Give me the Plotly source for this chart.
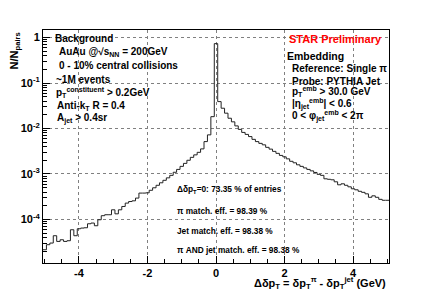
import numpy as np
import plotly.graph_objects as go

# ---- data (fraction of entries per 0.1 GeV bin, bin centres -5.0 ... 5.0) ----
bin_centers = np.round(np.arange(-5.0, 5.0001, 0.1), 2)
left_values = [
    2.16e-5, 2.79e-5, 3.03e-5, 4.39e-5, 3.29e-5, 3.58e-5, 3.29e-5, 3.41e-5, 5.94e-5, 4.39e-5,
    6.25e-5, 6.47e-5, 6.57e-5, 8.05e-5, 8.34e-5, 7.28e-5, 9.85e-5, 1.21e-4, 1.27e-4, 1.27e-4,
    1.63e-4, 1.33e-4, 1.63e-4, 1.93e-4, 2.29e-4, 2.48e-4, 2.57e-4, 2.95e-4, 3.80e-4, 3.80e-4,
    3.85e-4, 4.38e-4, 4.97e-4, 5.64e-4, 6.40e-4, 7.26e-4, 8.22e-4, 9.33e-4, 1.09e-3, 1.26e-3,
    1.47e-3, 1.71e-3, 2.00e-3, 2.32e-3, 2.63e-3, 2.99e-3, 3.56e-3, 5.15e-3, 7.24e-3, 1.82e-2,
]
peak_value = [0.7335]
right_values = [
    3.90e-2, 2.79e-2, 2.17e-2, 1.68e-2, 1.40e-2, 1.14e-2, 9.55e-3, 8.20e-3, 7.41e-3, 6.64e-3,
    5.77e-3, 5.15e-3, 4.71e-3, 4.37e-3, 3.85e-3, 3.52e-3, 3.14e-3, 2.84e-3, 2.56e-3, 2.38e-3,
    2.15e-3, 1.90e-3, 1.76e-3, 1.59e-3, 1.47e-3, 1.36e-3, 1.26e-3, 1.17e-3, 1.08e-3, 9.82e-4,
    9.33e-4, 7.83e-4, 7.64e-4, 7.45e-4, 6.73e-4, 5.78e-4, 6.08e-4, 5.64e-4, 5.22e-4, 4.72e-4,
    4.49e-4, 4.16e-4, 3.95e-4, 3.66e-4, 3.07e-4, 3.31e-4, 3.07e-4, 2.77e-4, 2.64e-4, 2.64e-4,
]
values = left_values + peak_value + right_values

x_tickvals = [-4, -2, 0, 2, 4]
x_ticktext = ["-4", "-2", "0", "2", "4"]
y_tickvals = [1e-4, 1e-3, 1e-2, 1e-1, 1]
y_ticktext = ["10<sup>-4</sup>", "10<sup>-3</sup>", "10<sup>-2</sup>", "10<sup>-1</sup>", "1"]

# ---- build step outline from bin edges ----
half = 0.05
edges = list(bin_centers - half) + [bin_centers[-1] + half]
step_y = values + [values[-1]]

FONT = "Liberation Sans"
W, H = 432, 293
L, R, T, B = 43, 389, 30, 263.3


def px(x):
    return (x - L) / (R - L)


def py(y):
    return (B - y) / (B - T)


fig = go.Figure()
fig.add_trace(go.Scatter(
    x=edges, y=step_y, mode="lines", line=dict(color="#222222", width=1, shape="hv"),
    hoverinfo="skip", showlegend=False,
))

minor_y = []
for e in range(-5, 1):
    for m in range(2, 10):
        v = m * 10.0 ** e
        if v < 1.4:
            minor_y.append(v)

fig.update_layout(
    width=W, height=H,
    margin=dict(l=L, r=W - R, t=T, b=H - B, pad=0),
    paper_bgcolor="white", plot_bgcolor="white",
    showlegend=False,
    xaxis=dict(
        range=[-5.05, 5.05], tickvals=x_tickvals, ticktext=x_ticktext,
        ticks="inside", ticklen=7, tickwidth=1, tickcolor="black",
        showline=True, linecolor="black", linewidth=1, mirror=True,
        showgrid=True, gridcolor="#808080", gridwidth=1, griddash="dot",
        zeroline=False,
        tickfont=dict(family=FONT, size=11, color="black", weight="bold"),
        minor=dict(tickvals=[v / 2 for v in range(-10, 11)], ticks="inside", ticklen=4,
                   tickcolor="black", showgrid=False),
    ),
    yaxis=dict(
        type="log", range=[-4.957, 0.165], tickvals=y_tickvals, ticktext=y_ticktext,
        ticks="inside", ticklen=7, tickwidth=1, tickcolor="black",
        showline=True, linecolor="black", linewidth=1, mirror=True,
        showgrid=True, gridcolor="#808080", gridwidth=1, griddash="dot",
        zeroline=False,
        tickfont=dict(family=FONT, size=11, color="black", weight="bold"),
        minor=dict(tickvals=minor_y, ticks="inside", ticklen=4,
                   tickcolor="black", showgrid=False),
    ),
)

ann = []


def add_text(x, y, text, size=10, color="black", xanchor="left", yanchor="middle", angle=0):
    ann.append(dict(
        x=px(x), y=py(y), xref="paper", yref="paper", text=text, showarrow=False,
        xanchor=xanchor, yanchor=yanchor, textangle=angle,
        font=dict(family=FONT, size=size, color=color, weight="bold"),
    ))


# left block
add_text(53, 39, "Background")
add_text(57, 52.5, "AuAu @√s<sub>NN</sub> = 200GeV")
add_text(57, 66, "0 - 10% central collisions")
add_text(54, 80, "~1M events")
add_text(54, 93, "p<sub>T</sub><sup>constituent</sup> > 0.2GeV")
add_text(55, 106, "Anti-k<sub>T</sub> R = 0.4")
add_text(55, 118.5, "A<sub>jet</sub> > 0.4sr")

# right block
add_text(287, 39, "STAR Preliminary", size=11, color="#ff0000")
add_text(285, 56, "Embedding", size=10.5)
add_text(290, 69, "Reference: Single π")
add_text(290, 81.5, "Probe: PYTHIA Jet")
add_text(290, 92, "p<sub>T</sub><sup>emb</sup> > 30.0 GeV")
add_text(290, 104, "|η<sub>jet</sub><sup>emb</sup>| < 0.6")
add_text(290, 116.5, "0 < φ<sub>jet</sub><sup>emb</sup> < 2π")

# efficiency block
add_text(175, 190, "Δδp<sub>T</sub>=0: 73.35 % of entries", size=8.3)
add_text(175, 211.7, "π match. eff. = 98.39 %", size=8.3)
add_text(175, 231, "Jet match. eff. = 98.38 %", size=8.3)
add_text(175, 250, "π AND jet match. eff. = 98.38 %", size=8.3)

# axis titles
add_text(388, 283, "Δδp<sub>T</sub> = δp<sub>T</sub><sup>π</sup> - δp<sub>T</sub><sup>jet</sup> (GeV)",
         size=11, xanchor="right")
add_text(15, 31, "N/N<sub>pairs</sub>", size=11, xanchor="center", yanchor="top", angle=-90)

fig.update_layout(annotations=ann)
fig.write_html("out.html", config={"displayModeBar": False},
               post_script="document.body.style.margin='0';")
